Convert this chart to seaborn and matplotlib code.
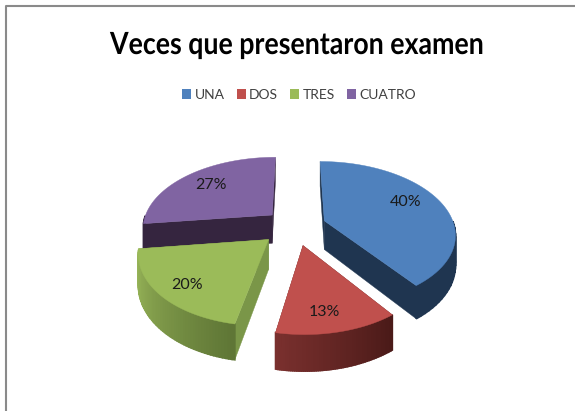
import numpy as np
import matplotlib
matplotlib.use('Agg')
import matplotlib.pyplot as plt
import matplotlib.colors as mcolors
from matplotlib.patches import Patch
from matplotlib.patheffects import AbstractPathEffect
from matplotlib.transforms import Affine2D
import seaborn as sns

categories = ['UNA', 'DOS', 'TRES', 'CUATRO']
values = [40, 13, 20, 27]
title = 'Veces que presentaron examen'

colors = ['#4F81BD', '#C0504D', '#9BBB59', '#8064A2']
# wall colour at start and end of each arc, clockwise
wall_start = ['#1F3550', '#4A1A18', '#5E7535', '#35253F']
wall_end = ['#1F3550', '#7A302E', '#9DBB5C', '#35253F']
side_colors = ['#1F3550', '#6B2A28', '#7A9648', '#35253F']
label_shift = [(-2, -4), (-4, 4), (-2, 5), (0, 0)]
explode = [0.24, 0.27, 0.27, 0.24]
shrink = [1.0, 0.95, 0.95, 1.0]

sns.set_theme(style='white')
plt.rcParams['font.family'] = ['Lato', 'DejaVu Sans']

# projection of the tilted pie, in pixels
cx, cy = 295, 226
rx, ry = 130, 71
depth = 29
persp = 0.17


class Squeeze(AbstractPathEffect):
    # narrows the glyphs, the original font is a condensed one
    def __init__(self, sx):
        super().__init__()
        self.sx = sx

    def draw_path(self, renderer, gc, tpath, affine, rgbFace=None):
        renderer.draw_path(gc, tpath, Affine2D().scale(self.sx, 1) + affine, rgbFace)


def project(x, y, z=0.0):
    s = 1 / (1 + persp * np.asarray(y))
    return cx + rx * np.asarray(x) * s, cy - ry * np.asarray(y) * s + depth * z * s


fig = plt.figure(figsize=(5.75, 4.11), dpi=100)
ax = fig.add_axes([0, 0, 1, 1])

# the pie gives angles and exploded centres, it is then redrawn in perspective
wedges, _ = ax.pie(values, explode=explode, startangle=90, counterclock=False, radius=1)
slices = [(w.theta1, w.theta2, w.center) for w in wedges]
for w in wedges:
    w.remove()
ax.set_aspect('auto')
ax.set_xlim(0, 575)
ax.set_ylim(411, 0)
ax.axis('off')

# back slices first
for i in [3, 0, 2, 1]:
    t1, t2, (ox, oy) = slices[i]
    t = np.radians(np.linspace(t1, t2, 60))
    ax_pts = ox + shrink[i] * np.cos(t), oy + shrink[i] * np.sin(t)

    # radial side faces
    for ex, ey in [(ax_pts[0][0], ax_pts[1][0]), (ax_pts[0][-1], ax_pts[1][-1])]:
        x0, y0 = project(ox, oy)
        x1, y1 = project(ex, ey)
        x2, y2 = project(ex, ey, 1)
        x3, y3 = project(ox, oy, 1)
        ax.fill([x0, x1, x2, x3], [y0, y1, y2, y3], color=side_colors[i], lw=0.3, zorder=1)

    # outer wall, one quad per arc step
    c_a = np.array(mcolors.to_rgb(wall_start[i]))
    c_b = np.array(mcolors.to_rgb(wall_end[i]))
    n = len(t) - 1
    for k in range(n):
        xa, ya = ax_pts[0][k], ax_pts[1][k]
        xb, yb = ax_pts[0][k + 1], ax_pts[1][k + 1]
        if (ya + yb) / 2 - oy > 0:
            continue
        x0, y0 = project(xa, ya)
        x1, y1 = project(xb, yb)
        x2, y2 = project(xb, yb, 1)
        x3, y3 = project(xa, ya, 1)
        f = 1 - k / n
        ax.fill([x0, x1, x2, x3], [y0, y1, y2, y3],
                color=c_a + (c_b - c_a) * f, lw=1.2, zorder=1)

    # top face
    tx = np.r_[ox, ax_pts[0]]
    ty = np.r_[oy, ax_pts[1]]
    px, py = project(tx, ty)
    ax.fill(px, py, color=colors[i], lw=0.3, zorder=1)

    # percent label
    mid = np.radians((t1 + t2) / 2)
    lx, ly = project(ox + 0.72 * np.cos(mid), oy + 0.72 * np.sin(mid))
    ax.text(lx + label_shift[i][0], ly + label_shift[i][1], f'{values[i]}%', ha='center', va='center',
            fontsize=11.5, color='#1a1a1a', zorder=3)

# frame of the original chart, left and top only
ax.plot([6, 6, 575], [411, 6, 6], color='#8a8a8a', lw=1.5, zorder=0)

ax.text(110, 45, title, ha='left', va='center', fontsize=22, fontweight='bold', color='black',
        path_effects=[Squeeze(0.875)])
handles = [Patch(facecolor=c, edgecolor='none') for c in colors]
ax.legend(handles, categories, ncol=4, loc='center', bbox_to_anchor=(299 / 575, 1 - 95 / 411),
          frameon=False, fontsize=10, handlelength=0.65, handleheight=0.65,
          handletextpad=0.25, columnspacing=0.85, labelcolor='#404040')

fig.savefig('out.png', dpi=100)
